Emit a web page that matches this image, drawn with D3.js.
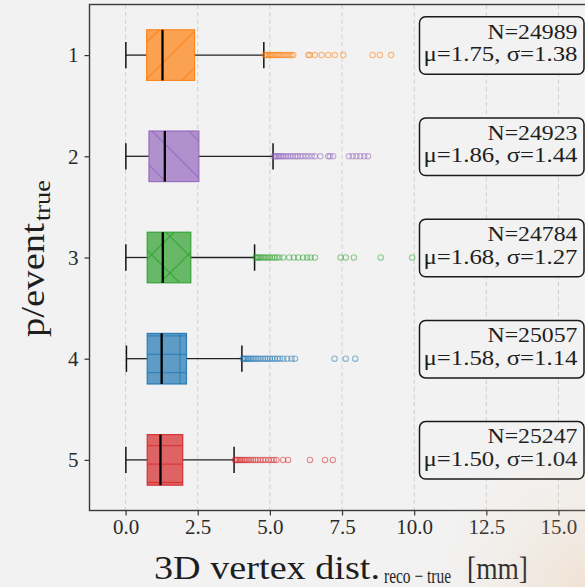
<!DOCTYPE html>
<html><head><meta charset="utf-8">
<script src="https://cdn.jsdelivr.net/npm/d3@7"></script>
<style>html,body{margin:0;padding:0;background:#f2f2f2;} svg{display:block}</style>
</head><body>
<svg id="chart" width="585" height="587"></svg>
<script>
// ---------- data ----------
const categories = ["1", "2", "3", "4", "5"];
const colors = ["#ff7f0e", "#9467bd", "#2ca02c", "#1f77b4", "#d62728"];
const hatches = ["/", "\\", "x", "+", "-"];
const whiskerLow  = [0.01, 0.01, 0.01, 0.03, 0.01];
const q1          = [0.73, 0.81, 0.75, 0.75, 0.75];
const medians     = [1.28, 1.36, 1.29, 1.25, 1.21];
const q3          = [2.39, 2.54, 2.26, 2.11, 1.98];
const whiskerHigh = [4.79, 5.11, 4.47, 4.03, 3.76];
const outliers1 = [4.82,4.86,4.9,4.95,5.0,5.05,5.1,5.16,5.22,5.28,5.34,5.4,5.47,5.54,5.61,5.68,5.75,5.81,
                   6.33,6.38,6.56,6.79,7.02,7.25,7.54,8.56,8.81,9.2];
const outliers2 = [5.14,5.18,5.22,5.27,5.32,5.38,5.44,5.5,5.57,5.64,5.72,5.8,5.88,5.96,6.05,6.14,6.24,6.34,6.45,6.56,
                   6.75,7.02,7.08,7.19,7.74,7.87,8.0,8.13,8.27,8.4];
const outliers3 = [4.5,4.54,4.58,4.63,4.68,4.74,4.8,4.86,4.93,5.0,5.08,5.16,5.24,5.33,5.46,5.67,5.83,5.98,6.15,6.29,6.41,6.56,
                   7.45,7.63,7.91,8.84,9.93];
const outliers4 = [4.06,4.1,4.14,4.19,4.24,4.29,4.35,4.41,4.47,4.54,4.61,4.68,4.76,4.84,4.92,5.0,5.08,5.17,5.26,5.35,
                   5.46,5.6,5.75,5.87,7.24,7.63,7.96];
const outliers5 = [3.79,3.83,3.87,3.92,3.97,4.02,4.08,4.14,4.2,4.27,4.34,4.42,4.5,4.58,4.67,4.76,4.85,4.95,5.05,5.14,5.23,
                   5.46,5.63,6.39,6.91,7.18];
const outliers = [outliers1, outliers2, outliers3, outliers4, outliers5];
const counts = [24989, 24923, 24784, 25057, 25247];
const means  = ["1.75", "1.86", "1.68", "1.58", "1.50"];
const sigmas = ["1.38", "1.44", "1.27", "1.14", "1.04"];
const xTicks = [0, 2.5, 5, 7.5, 10, 12.5, 15];
const xTickLabels = ["0.0", "2.5", "5.0", "7.5", "10.0", "12.5", "15.0"];

// ---------- layout ----------
const W = 585, H = 587;
const svg = d3.select("#chart");
const x = d3.scaleLinear().domain([-1.25, 16.3]).range([89.5, 596]);
const y = d3.scaleLinear().domain([0.5, 5.5]).range([4.5, 510.5]);
const FONT = "'Liberation Serif','Times New Roman',serif";
const TXT = "#1e1e1e";
const defs = svg.append("defs");

svg.append("rect").attr("width", W).attr("height", H).attr("fill", "#f2f2f2");

// hatch patterns
const DIAG = 36.8, STEP = 18.4;
const hatchPhase = [{ne: 4.9}, {nw: 15.8}, {ne: 1.4, nw: 29.5}, {h: 4.7, v: 14.4}, {h: 4.1}];
function diagPattern(id, color, kind, phase) {
  const p = DIAG / Math.SQRT2;
  const tx = kind === "ne" ? phase - STEP : -STEP - phase;
  const pat = defs.append("pattern").attr("id", id).attr("patternUnits", "userSpaceOnUse")
    .attr("width", p).attr("height", p)
    .attr("patternTransform", `translate(${tx},0) rotate(${kind === "ne" ? 45 : -45})`);
  pat.append("line").attr("x1", p / 2).attr("x2", p / 2).attr("y1", -1).attr("y2", p + 1)
    .attr("stroke", color).attr("stroke-width", 1.1);
}
function hvPattern(id, color, kind, phase) {
  const pat = defs.append("pattern").attr("id", id).attr("patternUnits", "userSpaceOnUse");
  if (kind === "h") {
    pat.attr("width", 10).attr("height", STEP).attr("patternTransform", `translate(0,${phase - STEP / 2})`);
    pat.append("line").attr("x1", -1).attr("x2", 11).attr("y1", STEP / 2).attr("y2", STEP / 2)
      .attr("stroke", color).attr("stroke-width", 1.1);
  } else {
    pat.attr("width", STEP).attr("height", 10).attr("patternTransform", `translate(${phase - STEP / 2},0)`);
    pat.append("line").attr("y1", -1).attr("y2", 11).attr("x1", STEP / 2).attr("x2", STEP / 2)
      .attr("stroke", color).attr("stroke-width", 1.1);
  }
}
categories.forEach((c, i) => {
  const ph = hatchPhase[i];
  Object.keys(ph).forEach(k => {
    const id = `hatch-${i}-${k}`;
    if (k === "ne" || k === "nw") diagPattern(id, colors[i], k, ph[k]);
    else hvPattern(id, colors[i], k, ph[k]);
  });
});

// grid
svg.append("g").selectAll("line").data(xTicks).join("line")
  .attr("x1", d => x(d)).attr("x2", d => x(d)).attr("y1", y(0.5)).attr("y2", y(5.5))
  .attr("stroke", "#cfcfcf").attr("stroke-width", 1).attr("stroke-dasharray", "4.5,3");

// boxes
const boxes = svg.append("g");
categories.forEach((c, i) => {
  const cy = y(i + 1);
  const g = boxes.append("g");
  const halfH = y(0.75) - y(0.5);
  const capH = y(0.63) - y(0.5);
  g.append("line").attr("x1", x(whiskerLow[i])).attr("x2", x(q1[i])).attr("y1", cy).attr("y2", cy)
    .attr("stroke", "#222").attr("stroke-width", 1.3);
  g.append("line").attr("x1", x(q3[i])).attr("x2", x(whiskerHigh[i])).attr("y1", cy).attr("y2", cy)
    .attr("stroke", "#222").attr("stroke-width", 1.3);
  const bx = x(q1[i]), bw = x(q3[i]) - x(q1[i]);
  g.append("rect").attr("x", bx).attr("y", cy - halfH).attr("width", bw).attr("height", 2 * halfH)
    .attr("fill", colors[i]).attr("fill-opacity", 0.7);
  Object.keys(hatchPhase[i]).forEach(k => {
    g.append("rect").attr("x", bx).attr("y", cy - halfH).attr("width", bw).attr("height", 2 * halfH)
      .attr("fill", `url(#hatch-${i}-${k})`).attr("opacity", 0.85);
  });
  g.append("rect").attr("x", bx).attr("y", cy - halfH).attr("width", bw).attr("height", 2 * halfH)
    .attr("fill", "none").attr("stroke", colors[i]).attr("stroke-opacity", 0.9).attr("stroke-width", 1.2);
  [whiskerLow[i], whiskerHigh[i]].forEach(v => {
    g.append("line").attr("x1", x(v)).attr("x2", x(v)).attr("y1", cy - capH).attr("y2", cy + capH)
      .attr("stroke", "#111").attr("stroke-width", 1.5);
  });
  g.append("line").attr("x1", x(medians[i])).attr("x2", x(medians[i]))
    .attr("y1", cy - halfH).attr("y2", cy + halfH).attr("stroke", "#000").attr("stroke-width", 2.3);
  g.append("g").selectAll("circle").data(outliers[i]).join("circle")
    .attr("cx", d => x(d)).attr("cy", cy).attr("r", 2.7)
    .attr("fill", "none").attr("stroke", colors[i]).attr("stroke-opacity", 0.5).attr("stroke-width", 1.1);
});

// annotation boxes
categories.forEach((c, i) => {
  const cy = y(i + 1);
  const g = svg.append("g");
  g.append("rect").attr("x", 419.5).attr("y", cy - 38.3).attr("width", 164.5).attr("height", 57.5)
    .attr("rx", 6).attr("fill", "#f2f2f2").attr("stroke", "#1a1a1a").attr("stroke-width", 1.5);
  g.append("text").attr("x", 577.5).attr("y", cy - 16.5).attr("text-anchor", "end")
    .attr("font-family", FONT).attr("font-size", 21).attr("fill", TXT)
    .attr("textLength", 90).attr("lengthAdjust", "spacingAndGlyphs")
    .text(`N=${counts[i]}`);
  g.append("text").attr("x", 577.5).attr("y", cy + 6).attr("text-anchor", "end")
    .attr("font-family", FONT).attr("font-size", 21).attr("fill", TXT)
    .attr("textLength", 154).attr("lengthAdjust", "spacingAndGlyphs")
    .text(`μ=${means[i]}, σ=${sigmas[i]}`);
});

// axes
const xAxis = svg.append("g").attr("transform", `translate(0,${y(5.5)})`)
  .call(d3.axisBottom(x).tickValues(xTicks).tickFormat((d, i) => xTickLabels[i]).tickSize(5).tickPadding(4));
xAxis.select(".domain").remove();
xAxis.selectAll("line").attr("stroke", "#333").attr("stroke-width", 1.2);
xAxis.selectAll("text").attr("font-family", FONT).attr("font-size", 21).attr("fill", "#2a2a2a");

const yAxis = svg.append("g").attr("transform", `translate(${x(-1.25)},0)`)
  .call(d3.axisLeft(y).tickValues([1, 2, 3, 4, 5]).tickFormat(d => categories[d - 1]).tickSize(5).tickPadding(6));
yAxis.select(".domain").remove();
yAxis.selectAll("line").attr("stroke", "#333").attr("stroke-width", 1.2);
yAxis.selectAll("text").attr("font-family", FONT).attr("font-size", 21).attr("fill", "#2a2a2a");

// frame
svg.append("rect").attr("x", x(-1.25)).attr("y", y(0.5)).attr("width", x(16.3) - x(-1.25))
  .attr("height", y(5.5) - y(0.5)).attr("fill", "none").attr("stroke", "#3a3a3a").attr("stroke-width", 1.4);

// axis titles
const xl = svg.append("g").attr("font-family", FONT).attr("fill", TXT);
xl.append("text").attr("x", 154).attr("y", 579).attr("font-size", 33)
  .attr("textLength", 226).attr("lengthAdjust", "spacingAndGlyphs").text("3D vertex dist.");
xl.append("text").attr("x", 384).attr("y", 583).attr("font-size", 21)
  .attr("textLength", 67).attr("lengthAdjust", "spacingAndGlyphs").text("reco − true");
xl.append("text").attr("x", 467).attr("y", 579).attr("font-size", 32)
  .attr("textLength", 61).attr("lengthAdjust", "spacingAndGlyphs").text("[mm]");

const yl = svg.append("g").attr("font-family", FONT).attr("fill", TXT);
yl.append("text").attr("transform", "translate(44,337) rotate(-90)").attr("font-size", 33)
  .attr("textLength", 114).attr("lengthAdjust", "spacingAndGlyphs").text("p/event");
yl.append("text").attr("transform", "translate(50,221) rotate(-90)").attr("font-size", 23)
  .attr("textLength", 41).attr("lengthAdjust", "spacingAndGlyphs").text("true");

// subtle warm tint in the lower-right corner
const grad = defs.append("radialGradient").attr("id", "tint").attr("gradientUnits", "userSpaceOnUse")
  .attr("cx", 590).attr("cy", 595).attr("r", 180);
grad.append("stop").attr("offset", "0%").attr("stop-color", "#e8b47a").attr("stop-opacity", 0.28);
grad.append("stop").attr("offset", "55%").attr("stop-color", "#efc9a0").attr("stop-opacity", 0.1);
grad.append("stop").attr("offset", "100%").attr("stop-color", "#f2f2f2").attr("stop-opacity", 0);
svg.append("rect").attr("width", W).attr("height", H).attr("fill", "url(#tint)").attr("pointer-events", "none");
</script>
</body></html>
